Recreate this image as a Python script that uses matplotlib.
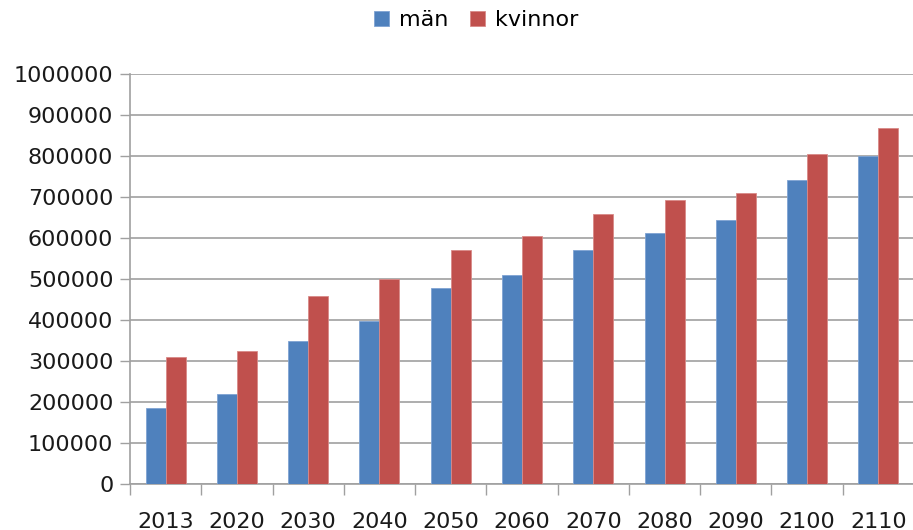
import numpy as np
import matplotlib.pyplot as plt
from matplotlib.ticker import MultipleLocator, FuncFormatter

years = ["2013", "2020", "2030", "2040", "2050", "2060", "2070", "2080", "2090", "2100", "2110"]
man = [186000, 220000, 350000, 398000, 477000, 510000, 571000, 612000, 643000, 741000, 800000]
kvinnor = [309000, 325000, 458000, 500000, 571000, 606000, 659000, 692000, 710000, 806000, 868000]

blue = "#4F81BD"
red = "#C0504D"
grid = "#A0A0A0"

plt.rcParams['font.family'] = ['DejaVu Sans']

fig = plt.figure(figsize=(9.13, 5.30), dpi=100)
ax = fig.add_axes([130 / 913, 1 - 484 / 530, 784 / 913, 410 / 530])

x = np.arange(len(years))
w = 0.28
ax.bar(x - w / 2, man, w, color=blue, edgecolor="#7FA3D3", linewidth=0.6, label="män", zorder=3)
ax.bar(x + w / 2, kvinnor, w, color=red, edgecolor="#D98A88", linewidth=0.6, label="kvinnor", zorder=3)

ax.set_xlim(-0.5, len(years) - 0.5)
ax.set_ylim(0, 1000000)
ax.yaxis.set_major_locator(MultipleLocator(100000))
ax.yaxis.set_major_formatter(FuncFormatter(lambda v, p: f"{int(v)}"))
ax.grid(axis="y", color=grid, linewidth=1.2, zorder=0)

# category ticks sit between the groups, labels in the middle
ax.set_xticks(np.arange(len(years) + 1) - 0.5)
ax.set_xticklabels([])
ax.set_xticks(x, minor=True)
ax.set_xticklabels(years, minor=True)
ax.tick_params(axis="x", which="major", length=8, width=1, color=grid, direction="out")
ax.tick_params(axis="x", which="minor", length=0, pad=20, labelsize=16, labelcolor="#1a1a1a")
ax.tick_params(axis="y", length=7, width=1, color=grid, labelsize=16, labelcolor="#1a1a1a", pad=5)

for s in ["top", "right"]:
    ax.spines[s].set_visible(False)
for s in ["left", "bottom"]:
    ax.spines[s].set_color(grid)
    ax.spines[s].set_linewidth(1.2)

fig.legend(loc="center", bbox_to_anchor=(476 / 913, 1 - 20 / 530), ncol=2, frameon=False,
           fontsize=16, handlelength=0.65, handleheight=0.65, handletextpad=0.45, columnspacing=1.0)

fig.savefig("out.png", dpi=100)
